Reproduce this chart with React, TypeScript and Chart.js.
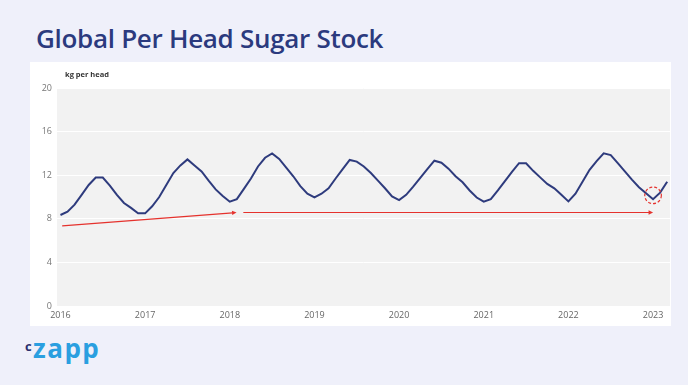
import React, { useEffect, useRef } from "react";
import { Chart, registerables } from "chart.js";

Chart.register(...registerables);

// ---- data (kg per head, monthly, Jan 2016 .. Mar 2023) ----
const START_YEAR = 2016;
const stock2016 = [8.35, 8.65, 9.3, 10.2, 11.1, 11.78, 11.78, 11.05, 10.2, 9.45, 9.0, 8.5];
const stock2017 = [8.5, 9.15, 10.0, 11.1, 12.2, 12.9, 13.45, 12.9, 12.35, 11.5, 10.7, 10.1];
const stock2018 = [9.57, 9.8, 10.75, 11.7, 12.8, 13.6, 14.0, 13.5, 12.7, 11.9, 11.0, 10.3];
const stock2019 = [9.97, 10.3, 10.8, 11.7, 12.55, 13.4, 13.25, 12.8, 12.2, 11.5, 10.8, 10.05];
const stock2020 = [9.72, 10.2, 10.95, 11.75, 12.55, 13.33, 13.15, 12.6, 11.9, 11.35, 10.6, 9.95];
const stock2021 = [9.57, 9.8, 10.6, 11.45, 12.3, 13.1, 13.1, 12.4, 11.8, 11.2, 10.8, 10.2];
const stock2022 = [9.6, 10.3, 11.4, 12.5, 13.3, 14.0, 13.85, 13.1, 12.35, 11.6, 10.9, 10.35];
const stock2023 = [9.8, 10.4, 11.4];

const yearTicks = [2016, 2017, 2018, 2019, 2020, 2021, 2022, 2023];
const yTicks = [0, 4, 8, 12, 16, 20];

// annotation anchors in data units [year, kg]
const trendArrowStart = [2016.02, 7.35];
const trendArrowEnd = [2018.08, 8.58];
const levelArrowStart = [2018.16, 8.58];
const levelArrowEnd = [2023.0, 8.58];
const lowMarker = [2023.0, 10.15];

const allStock = [
  ...stock2016, ...stock2017, ...stock2018, ...stock2019,
  ...stock2020, ...stock2021, ...stock2022, ...stock2023,
];
const points = allStock.map((v, i) => ({ x: START_YEAR + i / 12, y: v }));

const NAVY = "#2e3b7d";
const RED = "#e5322d";

const bgPlugin = {
  id: "plotBg",
  beforeDraw(chart: any) {
    const { ctx, chartArea } = chart;
    ctx.save();
    ctx.fillStyle = "#f2f2f2";
    ctx.fillRect(chartArea.left, chartArea.top, chartArea.right - chartArea.left, chartArea.bottom - chartArea.top);
    ctx.restore();
  },
};

function drawArrow(ctx: CanvasRenderingContext2D, x1: number, y1: number, x2: number, y2: number) {
  const ang = Math.atan2(y2 - y1, x2 - x1);
  const head = 5;
  ctx.beginPath();
  ctx.moveTo(x1, y1);
  ctx.lineTo(x2 - Math.cos(ang) * head * 0.8, y2 - Math.sin(ang) * head * 0.8);
  ctx.stroke();
  ctx.beginPath();
  ctx.moveTo(x2, y2);
  ctx.lineTo(x2 - head * Math.cos(ang - 0.45), y2 - head * Math.sin(ang - 0.45));
  ctx.lineTo(x2 - head * Math.cos(ang + 0.45), y2 - head * Math.sin(ang + 0.45));
  ctx.closePath();
  ctx.fill();
}

const annotPlugin = {
  id: "annot",
  afterDatasetsDraw(chart: any) {
    const { ctx } = chart;
    const xs = chart.scales.x;
    const ys = chart.scales.y;
    const px = (p: number[]) => [xs.getPixelForValue(p[0]), ys.getPixelForValue(p[1])];
    ctx.save();
    ctx.strokeStyle = RED;
    ctx.fillStyle = RED;
    ctx.lineWidth = 1.2;
    const a = px(trendArrowStart), b = px(trendArrowEnd);
    drawArrow(ctx, a[0], a[1], b[0], b[1]);
    const c = px(levelArrowStart), d = px(levelArrowEnd);
    drawArrow(ctx, c[0], c[1], d[0], d[1]);
    const m = px(lowMarker);
    ctx.setLineDash([3, 2]);
    ctx.lineWidth = 1.2;
    ctx.beginPath();
    ctx.arc(m[0], m[1], 8.3, 0, Math.PI * 2);
    ctx.stroke();
    ctx.restore();
  },
};

function SugarChart() {
  const ref = useRef<HTMLCanvasElement | null>(null);
  useEffect(() => {
    if (!ref.current) return;
    const chart = new Chart(ref.current, {
      type: "line",
      data: {
        datasets: [
          {
            data: points,
            borderColor: NAVY,
            borderWidth: 2,
            pointRadius: 0,
            tension: 0,
            fill: false,
          },
        ],
      },
      options: {
        responsive: false,
        animation: false,
        layout: { padding: { top: 26, right: 1, left: 0, bottom: 0 } },
        plugins: { legend: { display: false }, tooltip: { enabled: false } },
        scales: {
          x: {
            type: "linear",
            min: 2015.959,
            max: 2023.2,
            afterBuildTicks: (s: any) => {
              s.ticks = yearTicks.map((v) => ({ value: v }));
            },
            afterFit: (s: any) => {
              s.height = 20;
            },
            grid: { display: false, drawTicks: false },
            border: { display: false },
            ticks: {
              color: "#666",
              font: { family: "Open Sans", size: 9 },
              padding: 4,
              maxRotation: 0,
              callback: (v: any) => String(v),
            },
          },
          y: {
            min: 0,
            max: 20,
            afterBuildTicks: (s: any) => {
              s.ticks = yTicks.map((v) => ({ value: v }));
            },
            afterFit: (s: any) => {
              s.width = 27;
            },
            grid: { color: "#ffffff", lineWidth: 1, drawTicks: false },
            border: { display: false },
            ticks: {
              color: "#777",
              font: { family: "Open Sans", size: 9 },
              padding: 5,
            },
          },
        },
      },
      plugins: [bgPlugin, annotPlugin],
    } as any);
    return () => chart.destroy();
  }, []);
  return <canvas ref={ref} width={641} height={264} style={{ display: "block" }} />;
}

export default function App() {
  return (
    <div
      style={{
        position: "fixed",
        left: 0,
        top: 0,
        width: 688,
        height: 385,
        background: "#eff0fa",
        fontFamily: "'Open Sans', sans-serif",
        overflow: "hidden",
      }}
    >
      <div
        style={{
          position: "absolute",
          left: 36,
          top: 21,
          fontSize: 26,
          fontWeight: 600,
          color: "#2b3a7e",
          lineHeight: "34px",
          whiteSpace: "nowrap",
          letterSpacing: -0.3,
        }}
      >
        Global Per Head Sugar Stock
      </div>
      <div style={{ position: "absolute", left: 30, top: 62, width: 641, height: 264, background: "#ffffff" }}>
        <SugarChart />
        <div
          style={{
            position: "absolute",
            left: 35,
            top: 7,
            fontSize: 7.5,
            fontWeight: 700,
            color: "#333",
            whiteSpace: "nowrap",
          }}
        >
          kg per head
        </div>
      </div>
      <div style={{ position: "absolute", left: 24, top: 333, whiteSpace: "nowrap" }}>
        <span
          style={{
            position: "absolute",
            left: 1,
            top: 7,
            fontSize: 13,
            fontWeight: 700,
            color: "#2b2f6e",
            lineHeight: "13px",
          }}
        >
          c
        </span>
        <span
          style={{
            position: "absolute",
            left: 9,
            top: 0,
            fontSize: 26,
            fontWeight: 700,
            color: "#2a9fe0",
            lineHeight: "30px",
            letterSpacing: 1.5,
          }}
        >
          zapp
        </span>
      </div>
    </div>
  );
}
